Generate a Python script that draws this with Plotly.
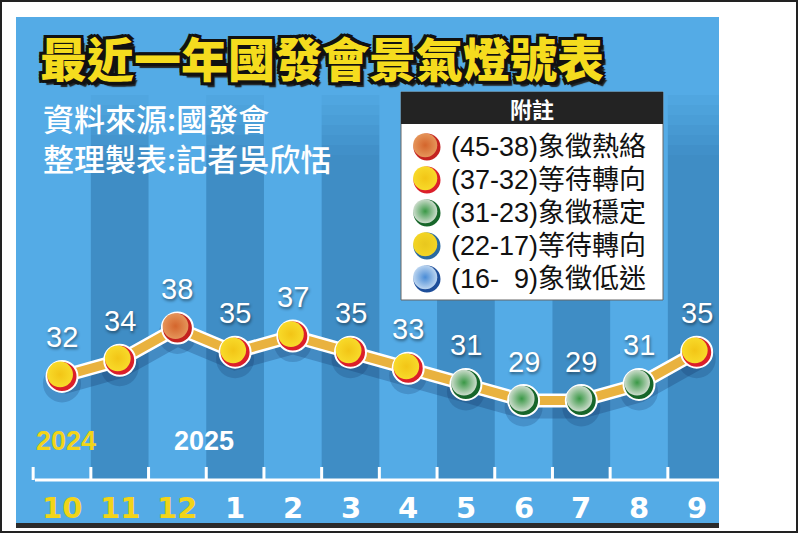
import plotly.graph_objects as go

# 最近一年國發會景氣燈號 (景氣對策信號綜合分數)
months = ["10", "11", "12", "1", "2", "3", "4", "5", "6", "7", "8", "9"]
years = [2024, 2024, 2024, 2025, 2025, 2025, 2025, 2025, 2025, 2025, 2025, 2025]
scores = [32, 34, 38, 35, 37, 35, 33, 31, 29, 29, 31, 35]

# 附註 (燈號區間)
legend_ranges = ["(45-38)", "(37-32)", "(31-23)", "(22-17)", "(16-\u20079)"]
legend_names = ["象徵熱絡", "等待轉向", "象徵穩定", "等待轉向", "象徵低迷"]
legend_lows = [38, 32, 23, 17, 9]

W, H = 800, 534
LIGHT = "#54ABE6"
DARK = "#3F8DC5"
GOLD = "#E9B23F"
YELLOW = "#F2D419"
CJK = "Noto Sans CJK TC, Noto Sans CJK SC, sans-serif"

# ball look for each light (red, yellow-red, green, yellow-blue, blue)
BALL = [
    dict(hl="#E5955A", main="#D4652C", rim="#C42220"),
    dict(hl="#F8DA2A", main="#F2C516", rim="#DB1F2A"),
    dict(hl="#CCDCCC", main="#3A9846", rim="#17662A"),
    dict(hl="#F3D524", main="#E8C71E", rim="#2A6AA0"),
    dict(hl="#BCD5F0", main="#4A8CD6", rim="#1E4E9A"),
]

# pixel mapping of the main axes (margins are zero)
X0_PX, DX_PX = 62, 57.7
Y0_PX, V0, DY_PX = 366.3, 33.25, 8.06
x_range = [-X0_PX / DX_PX, (W - X0_PX) / DX_PX]
y_range = [V0 - (H - Y0_PX) / DY_PX, V0 + Y0_PX / DY_PX]


def px(x):
    return x / W


def py(y):
    return 1 - y / H


def xdata(xp):
    return (xp - X0_PX) / DX_PX


def light_of(v):
    for i, low in enumerate(legend_lows):
        if v >= low:
            return i
    return len(legend_lows) - 1


def add_balls(fig, xs, ys, lights, xa, ya, ux, uy, size=31):
    # ux, uy: data units for one pixel right / one pixel up
    st = [BALL[k] for k in lights]
    fig.add_trace(go.Scatter(
        x=xs, y=ys, mode="markers", xaxis=xa, yaxis=ya, hoverinfo="skip",
        marker=dict(size=size, color=[s["rim"] for s in st],
                    line=dict(color="white", width=2))))
    k = size / 31
    fig.add_trace(go.Scatter(
        x=[x - 1.9 * k * ux for x in xs], y=[y + 1.9 * k * uy for y in ys], mode="markers",
        xaxis=xa, yaxis=ya, hoverinfo="skip",
        marker=dict(size=size * 0.83, color=[s["hl"] for s in st],
                    gradient=dict(type="radial", color=[s["main"] for s in st]),
                    line=dict(width=0))))


xs = list(range(len(months)))
lights = [light_of(v) for v in scores]

fig = go.Figure()
shapes = []

# outer frame, panel and its dark bottom edge
shapes.append(dict(type="rect", xref="paper", yref="paper", x0=px(1), x1=px(797), y0=py(532), y1=py(1),
                   line=dict(color="#222", width=2), fillcolor="white", layer="below"))
shapes.append(dict(type="rect", xref="paper", yref="paper", x0=px(16), x1=px(719), y0=py(524), y1=py(17),
                   line=dict(width=0), fillcolor=LIGHT, layer="below"))
shapes.append(dict(type="rect", xref="paper", yref="paper", x0=px(16), x1=px(719), y0=py(528), y1=py(523),
                   line=dict(width=0), fillcolor="#2B2B2B", layer="below"))

# month stripes, fading out towards the top
x_edge = xdata(719)
fade = [(95, 0.15), (105, 0.3), (115, 0.45), (125, 0.6), (135, 0.75), (145, 0.9)]
for i in xs:
    if i % 2 == 1:
        x0, x1 = i - 0.5, min(i + 0.5, x_edge)
        shapes.append(dict(type="rect", xref="x", yref="paper", x0=x0, x1=x1, y0=py(480), y1=py(155),
                           line=dict(width=0), fillcolor=DARK, layer="below"))
        for top, op in fade:
            shapes.append(dict(type="rect", xref="x", yref="paper", x0=x0, x1=x1, y0=py(top + 10), y1=py(top),
                               line=dict(width=0), fillcolor=DARK, opacity=op, layer="below"))

# axis line with ticks between months
shapes.append(dict(type="line", xref="paper", yref="paper", x0=px(35), x1=px(719), y0=py(480), y1=py(480),
                   line=dict(color="white", width=3), layer="below"))
for i in xs:
    shapes.append(dict(type="line", xref="x", yref="paper", x0=i - 0.5, x1=i - 0.5, y0=py(480), y1=py(467),
                       line=dict(color="white", width=3), layer="below"))

# legend box
shapes.append(dict(type="rect", xref="paper", yref="paper", x0=px(401), x1=px(663), y0=py(300), y1=py(92),
                   line=dict(color="#666", width=1), fillcolor="white", layer="below"))
shapes.append(dict(type="rect", xref="paper", yref="paper", x0=px(401), x1=px(663), y0=py(124), y1=py(92),
                   line=dict(width=0), fillcolor="#232323", layer="below"))

# shadow of the line and balls
fig.add_trace(go.Scatter(x=xs, y=[v - 7 / DY_PX for v in scores], mode="lines+markers", hoverinfo="skip",
                         line=dict(color="rgba(15,45,90,0.25)", width=22),
                         marker=dict(size=38, color="rgba(15,45,90,0.2)")))
# gold line with white rim
fig.add_trace(go.Scatter(x=xs, y=scores, mode="lines", hoverinfo="skip",
                         line=dict(color="white", width=14)))
fig.add_trace(go.Scatter(x=xs, y=scores, mode="lines", hoverinfo="skip",
                         line=dict(color=GOLD, width=9)))
add_balls(fig, xs, scores, lights, "x", "y", 1 / DX_PX, 1 / DY_PX)

# legend balls on a pixel overlay axis
leg_rows = [147 + 33 * k for k in range(len(legend_ranges))]
add_balls(fig, [427] * len(leg_rows), leg_rows, list(range(len(legend_ranges))), "x2", "y2", 1, -1, size=29)

ann = []
ann.append(dict(xref="paper", yref="paper", x=px(38), y=py(56), xanchor="left", yanchor="middle",
                text="最近一年國發會景氣燈號表", showarrow=False,
                font=dict(family=CJK, size=47, color="#F5DC1E", weight=900,
                          shadow="-3px -3px 0 #111, 3px -3px 0 #111, -3px 3px 0 #111, 3px 3px 0 #111, "
                                 "0 -3px 0 #111, 0 3px 0 #111, -3px 0 0 #111, 3px 0 0 #111, 4px 5px 1px #222")))
ann.append(dict(xref="paper", yref="paper", x=px(41), y=py(137), xanchor="left", yanchor="middle",
                text="資料來源:國發會<br>整理製表:記者吳欣恬", showarrow=False, align="left",
                font=dict(family=CJK, size=31, color="white", weight=500)))
ann.append(dict(xref="paper", yref="paper", x=px(532), y=py(108), xanchor="center", yanchor="middle",
                text="<b>附註</b>", showarrow=False,
                font=dict(family=CJK, size=22, color="white")))
for r, n, yy in zip(legend_ranges, legend_names, leg_rows):
    ann.append(dict(xref="paper", yref="paper", x=px(449), y=py(yy), xanchor="left", yanchor="middle",
                    text=r + n, showarrow=False,
                    font=dict(family="Liberation Sans, " + CJK, size=27, color="#111")))

# value labels
for i, v in zip(xs, scores):
    ann.append(dict(x=i, y=v, yshift=39, xanchor="center", yanchor="middle", text=str(v), showarrow=False,
                    font=dict(family="Liberation Sans, Arial", size=29, color="white",
                              shadow="1px 2px 3px rgba(0,0,0,0.45)")))

# month labels and year labels
first_year = years[0]
for i, (m, yr) in enumerate(zip(months, years)):
    ann.append(dict(x=i, xref="x", yref="paper", y=py(508), xanchor="center", yanchor="middle",
                    text="<b>%s</b>" % m, showarrow=False,
                    font=dict(family="DejaVu Sans", size=29, color=YELLOW if yr == first_year else "white")))
seen = []
for i, yr in enumerate(years):
    if yr in seen:
        continue
    seen.append(yr)
    xpos = i + 0.07 if i == 0 else i - 0.54
    ann.append(dict(x=xpos, xref="x", yref="paper", y=py(441), xanchor="center", yanchor="middle",
                    text="<b>%d</b>" % yr, showarrow=False,
                    font=dict(family="Liberation Sans, Arial", size=27,
                              color=YELLOW if yr == first_year else "white")))

fig.update_layout(
    width=W, height=H, margin=dict(l=0, r=0, t=0, b=0),
    paper_bgcolor="white", plot_bgcolor="rgba(0,0,0,0)", showlegend=False,
    xaxis=dict(range=x_range, visible=False, fixedrange=True),
    yaxis=dict(range=y_range, visible=False, fixedrange=True),
    xaxis2=dict(range=[0, W], visible=False, overlaying="x", anchor="y2", fixedrange=True),
    yaxis2=dict(range=[H, 0], visible=False, overlaying="y", anchor="x2", fixedrange=True),
    shapes=shapes, annotations=ann,
)

# the page's default body margin would shift the figure by 8px
fig.write_html("out.html", config={"displayModeBar": False},
               post_script="document.body.style.margin='0';")
